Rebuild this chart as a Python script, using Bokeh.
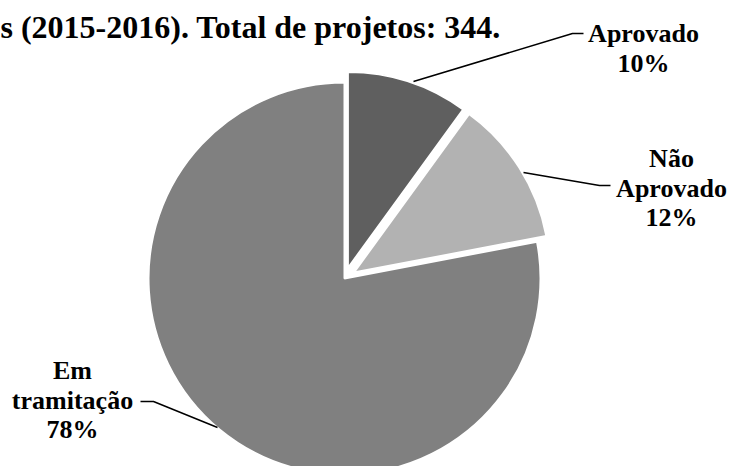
import math
from bokeh.plotting import figure
from bokeh.models import Range1d, Label, ColumnDataSource
from bokeh.core.properties import value
from bokeh.embed import file_html
from bokeh.resources import INLINE

# ---- data ----
categories = ["Aprovado", "Não Aprovado", "Em tramitação"]
percents = [10, 12, 78]
label_lines = [["Aprovado", "10%"], ["Não", "Aprovado", "12%"], ["Em", "tramitação", "78%"]]
title_text = "s (2015-2016). Total de projetos: 344."
colors = ["#5f5f5f", "#b2b2b2", "#808080"]

# ---- layout ----
W, H = 731, 466
CX, CY, R = 344, 278, 196          # pie centre / radius in pixel coords (top origin)
explode = [11, 11, 0]
FONT = "Liberation Serif"

def fy(y):
    return H - y

p = figure(width=W, height=H, x_range=Range1d(0, W), y_range=Range1d(0, H),
           output_backend="svg", toolbar_location=None, min_border=0,
           x_axis_location=None, y_axis_location=None)
p.grid.visible = False
p.outline_line_color = None
p.background_fill_color = "white"
p.border_fill_color = "white"

# wedges, starting at 12 o'clock, clockwise
xs, ys, starts, ends = [], [], [], []
ang = 90.0
for pct, e in zip(percents, explode):
    span = pct / 100.0 * 360.0
    s, t = ang - span, ang
    ang = s
    mid = math.radians((s + t) / 2)
    xs.append(CX + e * math.cos(mid))
    ys.append(fy(CY) + e * math.sin(mid))
    starts.append(math.radians(s))
    ends.append(math.radians(t))

src = ColumnDataSource(dict(x=xs, y=ys, start=starts, end=ends, color=colors, cat=categories))
p.wedge(x="x", y="y", radius=R, start_angle="start", end_angle="end",
        fill_color="color", line_color="white", line_width=2, source=src)

# leader lines (pixel coords, top origin)
leaders = [
    [(413, 81), (572, 33), (583, 33)],
    [(523, 172), (599, 185), (610, 185)],
    [(140, 401), (153, 401), (217, 427)],
]
for pts in leaders:
    p.line([q[0] for q in pts], [fy(q[1]) for q in pts], line_color="black", line_width=1.5)

# labels
anchors = [(643, 33), (671, 158), (72, 370)]
step = 29.5
tx, ty, tt = [], [], []
for (ax, ay), lines in zip(anchors, label_lines):
    for i, ln in enumerate(lines):
        tx.append(ax)
        ty.append(fy(ay + i * step))
        tt.append(ln)
p.text(x=tx, y=ty, text=tt, text_font=value(FONT), text_font_style="bold",
       text_font_size="26px", text_align="center", text_baseline="alphabetic",
       text_color="black")

# title
p.add_layout(Label(x=0, y=H - 26, x_units="screen", y_units="screen", text=title_text,
                   text_font=FONT, text_font_style="bold", text_font_size="32px",
                   text_baseline="alphabetic", text_align="left", text_color="black"))

open("out.html", "w").write(file_html(p, INLINE))
